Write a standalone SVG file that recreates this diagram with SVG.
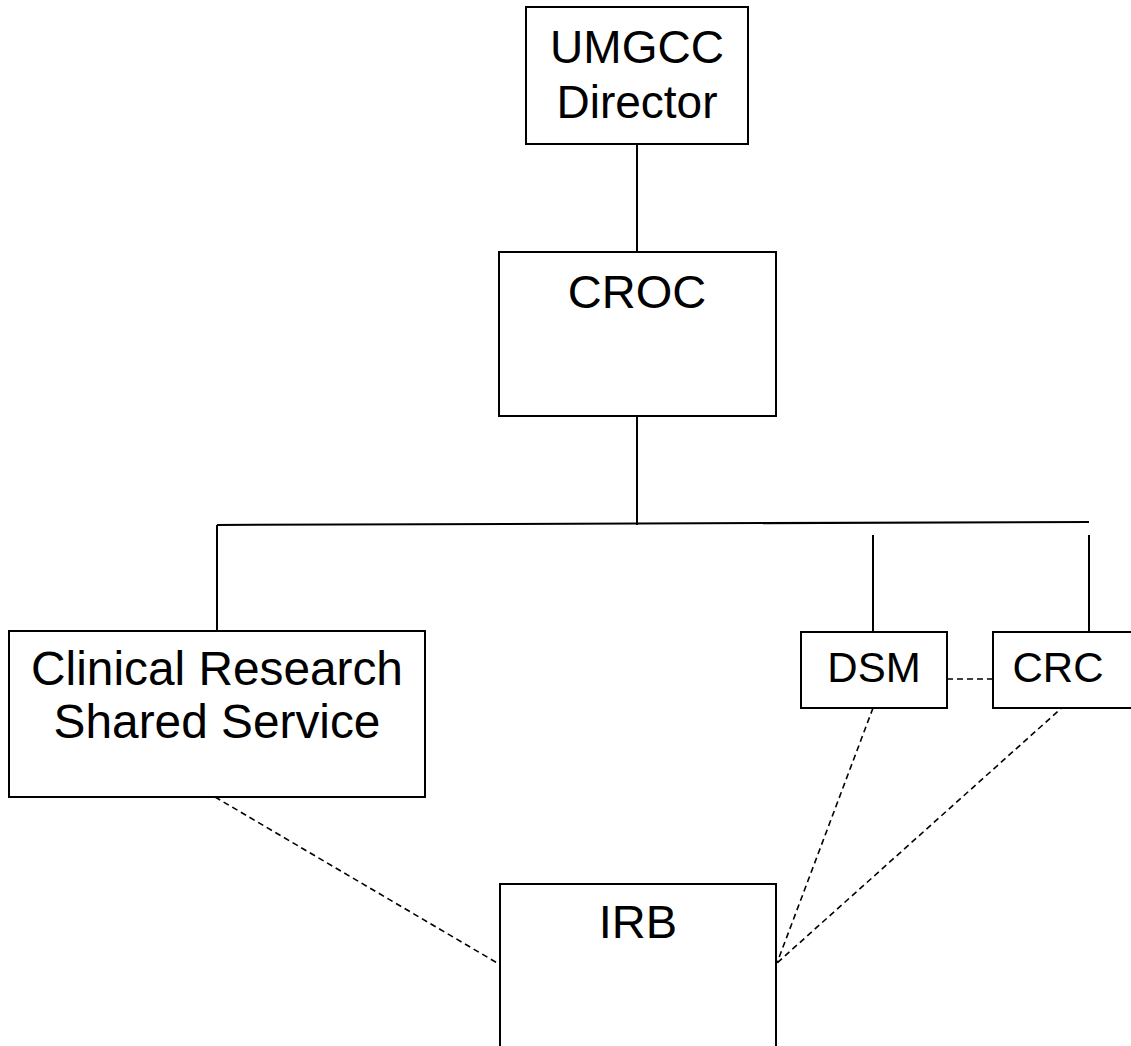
<svg xmlns="http://www.w3.org/2000/svg" width="1131" height="1046" viewBox="0 0 1131 1046">
<style>
.box{fill:#fff;stroke:#000;stroke-width:2}
.t{font-family:"Liberation Sans",Arial,sans-serif;fill:#000;text-anchor:middle}
.solid{stroke:#000;stroke-width:2;fill:none}
.dash{stroke:#000;stroke-width:1.6;fill:none;stroke-dasharray:6 4}
</style>
<rect width="1131" height="1046" fill="#fff"/>
<g id="connectors">
<line class="solid" x1="637" y1="144" x2="637" y2="252"/>
<line class="solid" x1="637" y1="416" x2="637" y2="525"/>
<line class="solid" x1="217" y1="525" x2="1089" y2="522"/>
<line class="solid" x1="217" y1="525" x2="217" y2="631"/>
<line class="solid" x1="873" y1="535" x2="873" y2="632"/>
<line class="solid" x1="1089" y1="535" x2="1089" y2="632"/>
<line class="dash" x1="947" y1="679" x2="993" y2="679"/>
<line class="dash" x1="215" y1="797" x2="499" y2="964"/>
<line class="dash" x1="873" y1="708" x2="777" y2="963"/>
<line class="dash" x1="1065" y1="705" x2="777" y2="963"/>
</g>
<g id="umgcc">
<rect class="box" x="526" y="7" width="222" height="137"/>
<text class="t" x="637" y="63" font-size="46">UMGCC</text>
<text class="t" x="637" y="118" font-size="46">Director</text>
</g>
<g id="croc">
<rect class="box" x="499" y="252" width="277" height="164"/>
<text class="t" x="637" y="308" font-size="47">CROC</text>
</g>
<g id="crss">
<rect class="box" x="9" y="631" width="416" height="166"/>
<text class="t" x="217" y="685" font-size="47.8">Clinical Research</text>
<text class="t" x="217" y="738" font-size="47.8">Shared Service</text>
</g>
<g id="dsm">
<rect class="box" x="801" y="632" width="146" height="76"/>
<text class="t" x="874" y="682" font-size="42">DSM</text>
</g>
<g id="crc">
<rect class="box" x="993" y="632" width="142" height="76"/>
<text class="t" x="1058" y="682" font-size="42">CRC</text>
</g>
<g id="irb">
<rect class="box" x="500" y="884" width="276" height="180"/>
<text class="t" x="638" y="938" font-size="47">IRB</text>
</g>
</svg>
